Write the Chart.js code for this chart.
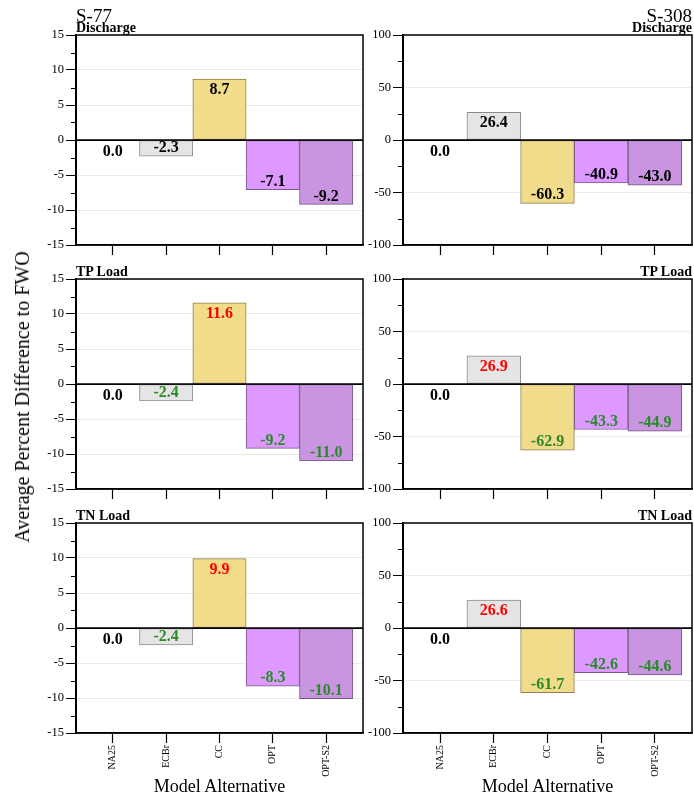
<!DOCTYPE html>
<html>
<head>
<meta charset="utf-8">
<script src="https://cdn.jsdelivr.net/npm/chart.js@4.4.1/dist/chart.umd.min.js"></script>
<style>
  body { margin: 0; background: #fff; }
  #fig { position: relative; width: 694px; height: 795px; font-family: 'Liberation Serif', 'Times New Roman', serif; color: #000; }
  .panel { position: absolute; }
  .txt { position: absolute; white-space: nowrap; line-height: 1; }
  .site { font-size: 19px; }
  .sub { font-size: 14px; font-weight: bold; }
</style>
</head>
<body>
<div id="fig"></div>
<script>
// categorias (alternativas del modelo)
var alternativas = ['NA25', 'ECBr', 'CC', 'OPT', 'OPT-S2'];
var sitios = ['S-77', 'S-308'];
var parametros = ['Discharge', 'TP Load', 'TN Load'];

// valores: diferencia porcentual promedio respecto a FWO
var s77_discharge = [0.0, -2.3, 8.7, -7.1, -9.2];
var s77_tp = [0.0, -2.4, 11.6, -9.2, -11.0];
var s77_tn = [0.0, -2.4, 9.9, -8.3, -10.1];
var s308_discharge = [0.0, 26.4, -60.3, -40.9, -43.0];
var s308_tp = [0.0, 26.9, -62.9, -43.3, -44.9];
var s308_tn = [0.0, 26.6, -61.7, -42.6, -44.6];

// ejes y
var s77_ejeY = [-15, 15, 5];
var s308_ejeY = [-100, 100, 50];

var colores = ['#e0e0e0', '#e5e5e5', '#f0dc8a', '#dd99ff', '#c994e0'];
var bordes = ['#888888', '#8c8c8c', '#8e8050', '#7a5c8c', '#6e5a7e'];

var serif = "'Liberation Serif', 'Times New Roman', serif";
var fig = document.getElementById('fig');

var columnas = [{ left: 76, width: 287 }, { left: 403, width: 289 }];
var filas = [{ top: 35, h: 210 }, { top: 279, h: 210 }, { top: 523, h: 210 }];
var YW = 50, PAD = 10, XH = 60;

var datos = [
  [s77_discharge, s308_discharge],
  [s77_tp, s308_tp],
  [s77_tn, s308_tn]
];
var ejes = [s77_ejeY, s308_ejeY];

function texto(t, cls, css) {
  var d = document.createElement('div');
  d.className = 'txt ' + cls;
  d.textContent = t;
  for (var k in css) d.style[k] = css[k];
  fig.appendChild(d);
  return d;
}

// plugin: marco, linea cero, ticks menores y etiquetas de valores
var extras = {
  id: 'extras',
  afterDatasetsDraw: function(chart) {
    var ctx = chart.ctx, a = chart.chartArea;
    var y = chart.scales.y, x = chart.scales.x;
    var cfg = chart.options.plugins.extras;
    ctx.save();
    // linea cero
    var y0 = y.getPixelForValue(0);
    ctx.strokeStyle = '#000';
    ctx.lineWidth = 1.5;
    ctx.beginPath();
    ctx.moveTo(a.left, y0);
    ctx.lineTo(a.right, y0);
    ctx.stroke();
    // marco
    ctx.lineWidth = 1.5;
    ctx.strokeRect(a.left, a.top, a.right - a.left, a.bottom - a.top);
    ctx.lineWidth = 2;
    ctx.beginPath();
    ctx.moveTo(a.left, a.top);
    ctx.lineTo(a.left, a.bottom);
    ctx.stroke();
    // ticks menores
    ctx.lineWidth = 1;
    var paso = cfg.paso / 2;
    for (var v = y.min + paso; v < y.max; v += cfg.paso) {
      var py = Math.round(y.getPixelForValue(v)) + 0.5;
      ctx.beginPath();
      ctx.moveTo(a.left - 5, py);
      ctx.lineTo(a.left, py);
      ctx.stroke();
    }
    // etiquetas
    ctx.font = 'bold 16px ' + serif;
    ctx.textAlign = 'center';
    var vals = chart.data.datasets[0].data;
    vals.forEach(function(p) {
      var v = p.y;
      var px = x.getPixelForValue(p.x);
      var py = y.getPixelForValue(v);
      var col = '#000';
      if (cfg.color) {
        if (v > 0) col = '#ff0000';
        else if (v < 0) col = '#2a8a2a';
      }
      ctx.fillStyle = col;
      if (v > 0) {
        ctx.textBaseline = 'top';
        ctx.fillText(v.toFixed(1), px, py + 3);
      } else if (v < 0) {
        ctx.textBaseline = 'bottom';
        ctx.fillText(v.toFixed(1), px, py);
      } else {
        ctx.textBaseline = 'top';
        ctx.fillText(v.toFixed(1), px, py + 4);
      }
    });
    ctx.restore();
  }
};

function crearPanel(fila, col) {
  var f = filas[fila], c = columnas[col];
  var eje = ejes[col];
  var valores = datos[fila][col];
  var ultimaFila = fila === filas.length - 1;

  var div = document.createElement('div');
  div.className = 'panel';
  div.style.left = (c.left - YW) + 'px';
  div.style.top = (f.top - PAD) + 'px';
  var cv = document.createElement('canvas');
  cv.width = YW + c.width + PAD;
  cv.height = PAD + f.h + XH;
  div.appendChild(cv);
  fig.appendChild(div);

  var puntos = valores.map(function(v, i) { return { x: i, y: v }; });

  new Chart(cv, {
    type: 'bar',
    data: {
      datasets: [{
        data: puntos,
        backgroundColor: colores,
        borderColor: bordes,
        borderWidth: 1,
        borderSkipped: false,
        barPercentage: 1,
        categoryPercentage: 1
      }]
    },
    options: {
      responsive: false,
      animation: false,
      layout: { padding: { top: PAD, right: PAD, left: 0, bottom: 0 } },
      plugins: {
        legend: { display: false },
        tooltip: { enabled: false },
        extras: { paso: eje[2], color: fila > 0 }
      },
      scales: {
        x: {
          type: 'linear',
          min: -0.69,
          max: alternativas.length - 1 + 0.69,
          offset: false,
          afterBuildTicks: function(s) {
            s.ticks = alternativas.map(function(n, i) { return { value: i }; });
          },
          afterFit: function(s) { s.height = XH; },
          ticks: {
            display: ultimaFila,
            autoSkip: false,
            maxRotation: 90,
            minRotation: 90,
            padding: 2,
            color: '#000',
            font: { family: serif, size: 10 },
            callback: function(v) { return alternativas[v]; }
          },
          grid: { display: true, drawOnChartArea: false, offset: false, tickLength: 10, tickColor: '#000', tickWidth: 1.2 },
          border: { display: true, color: '#000', width: 1.5 }
        },
        y: {
          min: eje[0],
          max: eje[1],
          afterFit: function(s) { s.width = YW; },
          ticks: {
            stepSize: eje[2],
            padding: 2,
            color: '#000',
            font: { family: serif, size: 12.5 }
          },
          grid: {
            color: function(c) { return c.tick && c.tick.value === 0 ? '#000' : '#ebebeb'; },
            lineWidth: 1,
            tickLength: 10,
            tickColor: '#000',
            tickWidth: 1
          },
          border: { display: true, color: '#000', width: 2 }
        }
      }
    },
    plugins: [extras]
  });

  // titulos del panel
  var sub = parametros[fila];
  if (col === 0) {
    texto(sub, 'sub', { left: c.left + 'px', top: (f.top - 14) + 'px' });
  } else {
    texto(sub, 'sub', { right: (694 - c.left - c.width) + 'px', top: (f.top - 14) + 'px' });
  }
}

for (var i = 0; i < filas.length; i++) {
  for (var j = 0; j < columnas.length; j++) crearPanel(i, j);
}

// titulos de sitio
texto(sitios[0], 'site', { left: columnas[0].left + 'px', top: '6px' });
texto(sitios[1], 'site', { right: (694 - columnas[1].left - columnas[1].width) + 'px', top: '6px' });

// titulos de ejes
columnas.forEach(function(c) {
  texto('Model Alternative', 'site', { left: c.left + 'px', width: c.width + 'px', textAlign: 'center', top: '777px', fontSize: '18px' });
});
texto('Average Percent Difference to FWO', 'site', {
  left: '22px', top: '397px', fontSize: '20px',
  transform: 'translate(-50%, -50%) rotate(-90deg)'
});
</script>
</body>
</html>
